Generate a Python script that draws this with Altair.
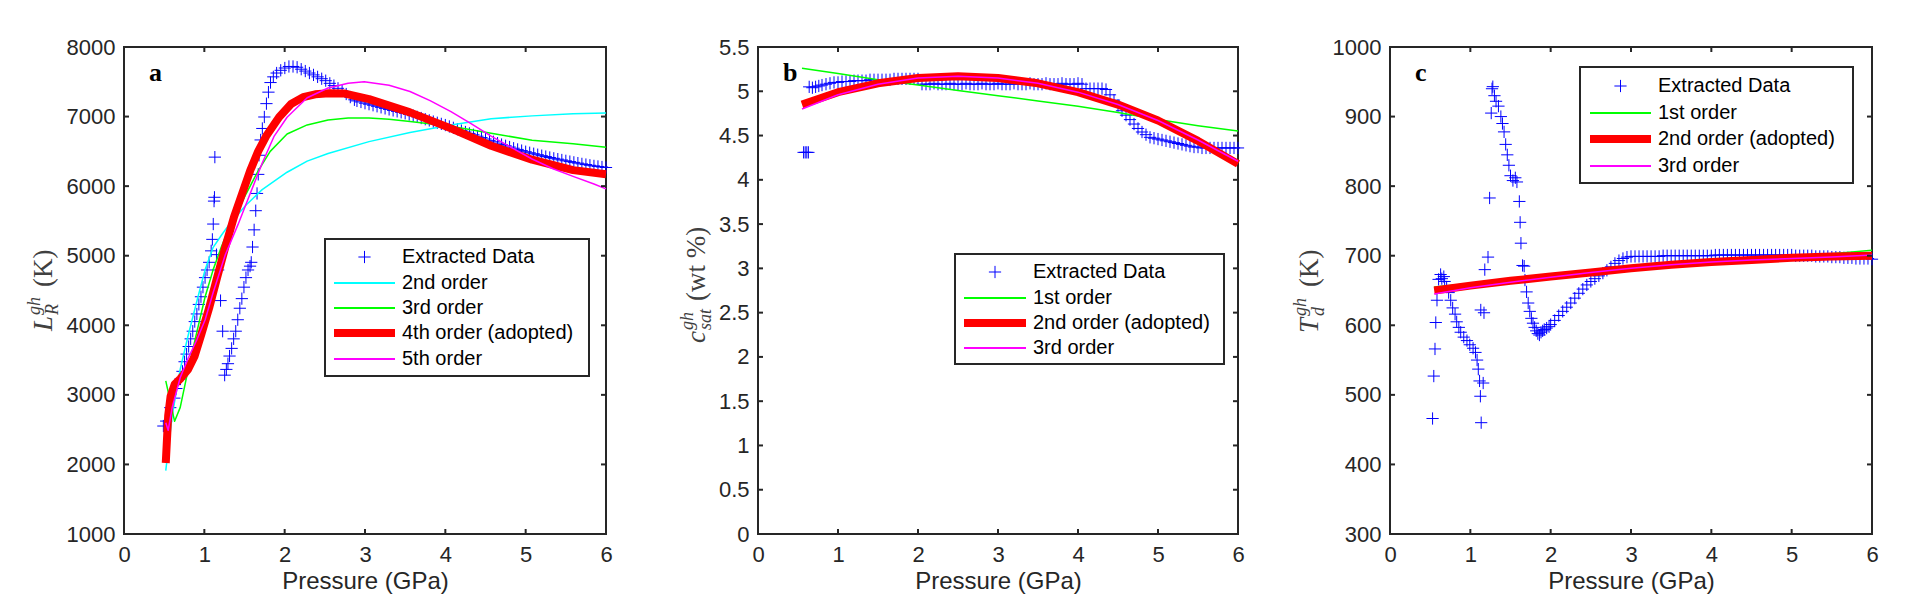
import altair as alt
import pandas as pd

# ---------------------------------------------------------------------------
# Panel a : L_R^gh (K) versus pressure
# ---------------------------------------------------------------------------
a_pts_p = [0.49, 0.525, 0.576, 0.627, 0.652, 0.703, 0.728, 0.754, 0.779, 0.805,
           0.830, 0.856, 0.881, 0.907, 0.932, 0.958, 0.983, 1.009, 1.034, 1.060,
           1.085, 1.100, 1.111, 1.121, 1.126, 1.131, 1.151, 1.172, 1.202, 1.228,
           1.253, 1.274, 1.294, 1.314, 1.340, 1.365, 1.391, 1.416, 1.442, 1.467,
           1.493, 1.518, 1.544, 1.569, 1.584, 1.600, 1.620, 1.640, 1.656, 1.671,
           1.681, 1.701, 1.722, 1.747, 1.773, 1.798, 1.824, 1.859, 1.900, 1.951,
           2.002, 2.053, 2.104, 2.155, 2.206, 2.257, 2.308, 2.359, 2.410, 2.461,
           2.511, 2.562, 2.613, 2.664, 2.715, 2.766, 2.817, 2.868,
           2.90, 2.95, 3.00, 3.05, 3.10, 3.15, 3.20, 3.25, 3.30, 3.35, 3.40, 3.45,
           3.50, 3.55, 3.60, 3.65, 3.70, 3.75, 3.80, 3.85, 3.90, 3.95, 4.00, 4.05,
           4.10, 4.15, 4.20, 4.25, 4.30, 4.35, 4.40, 4.45, 4.50, 4.55, 4.60, 4.65,
           4.70, 4.75, 4.80, 4.85, 4.90, 4.95, 5.00, 5.05, 5.10, 5.15, 5.20, 5.25,
           5.30, 5.35, 5.40, 5.45, 5.50, 5.55, 5.60, 5.65, 5.70, 5.75, 5.80, 5.85,
           5.90, 5.95, 6.00]
a_pts_v = [2552, 2623, 2816, 2953, 3091, 3228, 3338, 3476, 3586, 3695,
           3805, 3915, 4053, 4163, 4300, 4410, 4548, 4685, 4795, 4905,
           5070, 5235, 5455, 5785, 5840, 6417, 5015, 4795, 4355, 3915,
           3283, 3366, 3448, 3558, 3668, 3805, 3915, 4080, 4245, 4383,
           4548, 4685, 4795, 4850, 4905, 5125, 5372, 5647, 5895, 6169,
           6444, 6664, 6829, 6994, 7186, 7351, 7489, 7571, 7626, 7665,
           7698, 7720, 7720, 7709, 7681, 7654, 7626, 7599, 7571, 7544,
           7516, 7478, 7445, 7406, 7368, 7324, 7280, 7241,
           7225, 7210, 7192, 7178, 7163, 7148, 7133, 7118, 7103, 7089, 7075, 7061,
           7047, 7030, 7013, 6996, 6979, 6962, 6945, 6928, 6911, 6895, 6878, 6858,
           6838, 6818, 6798, 6778, 6758, 6738, 6718, 6698, 6678, 6658, 6638, 6618,
           6598, 6580, 6562, 6545, 6528, 6511, 6495, 6480, 6466, 6452, 6438, 6425,
           6412, 6400, 6388, 6376, 6364, 6353, 6342, 6331, 6320, 6310, 6300, 6291,
           6283, 6275, 6268]

a_fit_p = [0.52, 0.55, 0.58, 0.63, 0.70, 0.80, 0.88, 0.96, 1.06, 1.16, 1.26,
           1.37, 1.47, 1.57, 1.67, 1.77, 1.93, 2.08, 2.23, 2.38, 2.55, 2.75,
           3.05, 3.56, 4.07, 4.57, 5.08, 5.59, 6.00]
a_fit4 = [2020, 2700, 2980, 3150, 3230, 3370, 3560, 3860, 4250, 4690, 5120,
          5560, 5890, 6220, 6500, 6720, 6990, 7180, 7280, 7320, 7335, 7330,
          7250, 7060, 6830, 6580, 6380, 6230, 6170]

a_fit2_p = [0.52, 0.60, 0.70, 0.80, 0.91, 1.01, 1.11, 1.21, 1.31, 1.52, 1.72,
            2.03, 2.28, 2.54, 3.05, 3.56, 4.07, 4.57, 5.08, 5.59, 6.00]
a_fit2 = [1910, 2700, 3370, 3860, 4360, 4800, 5120, 5290, 5450, 5730, 5950,
          6200, 6360, 6470, 6640, 6770, 6880, 6970, 7010, 7040, 7050]

a_fit3_p = [0.52, 0.63, 0.70, 0.80, 0.91, 1.01, 1.11, 1.21, 1.31, 1.42, 1.52,
            1.67, 1.82, 2.03, 2.28, 2.54, 2.79, 3.05, 3.30, 3.56, 4.07, 4.57,
            5.08, 5.59, 6.00]
a_fit3 = [3200, 2620, 2820, 3370, 3920, 4410, 4800, 5120, 5400, 5650, 5890,
          6220, 6500, 6750, 6880, 6950, 6980, 6980, 6960, 6930, 6860, 6760,
          6660, 6610, 6560]

a_fit5_p = [0.52, 0.55, 0.60, 0.70, 0.80, 0.91, 1.01, 1.11, 1.26, 1.42, 1.57,
            1.72, 1.87, 2.03, 2.28, 2.54, 2.79, 2.99, 3.30, 3.56, 3.81, 4.07,
            4.32, 4.57, 4.83, 5.08, 5.34, 5.59, 5.85, 6.00]
a_fit5 = [2600, 2490, 2820, 3250, 3530, 3800, 4080, 4470, 5010, 5450, 5890,
          6330, 6720, 6990, 7270, 7410, 7480, 7500, 7450, 7360, 7230, 7070,
          6900, 6720, 6550, 6390, 6250, 6140, 6030, 5960]

# ---------------------------------------------------------------------------
# Panel b : c_sat^gh (wt %) versus pressure
# ---------------------------------------------------------------------------
b_pts_p = [0.57, 0.59, 0.61, 0.63, 0.64,
           0.68, 0.72, 0.76, 0.80, 0.85, 0.90, 0.95, 1.00, 1.05, 1.10, 1.15,
           1.20, 1.25, 1.30, 1.35, 1.40, 1.45, 1.50, 1.55, 1.60, 1.65, 1.70,
           1.75, 1.80, 1.85, 1.90, 1.95, 2.00,
           2.05, 2.10, 2.15, 2.20, 2.25, 2.30, 2.35, 2.40, 2.45, 2.50, 2.55,
           2.60, 2.65, 2.70, 2.75, 2.80, 2.85, 2.90, 2.95, 3.00, 3.05, 3.10,
           3.15, 3.20, 3.25, 3.30, 3.35, 3.40, 3.45, 3.50, 3.55, 3.60, 3.65,
           3.70, 3.75, 3.80, 3.85, 3.90, 3.95, 4.00, 4.05,
           4.10, 4.15, 4.20, 4.25, 4.30, 4.35,
           4.40, 4.45, 4.50, 4.55, 4.60, 4.65, 4.70, 4.75, 4.80, 4.85, 4.90,
           4.95, 5.00, 5.05, 5.10, 5.15, 5.20, 5.25, 5.30, 5.35, 5.40, 5.45,
           5.50, 5.55, 5.60, 5.65, 5.70, 5.75, 5.80, 5.85, 5.90, 5.95, 6.00]
b_pts_v = [4.31, 4.31, 4.31, 4.31, 5.05,
           5.04, 5.05, 5.06, 5.07, 5.08, 5.09, 5.10, 5.10, 5.11, 5.11, 5.11,
           5.12, 5.12, 5.12, 5.12, 5.13, 5.13, 5.13, 5.13, 5.13, 5.13, 5.14,
           5.14, 5.14, 5.14, 5.14, 5.14, 5.14,
           5.08, 5.08, 5.08, 5.09, 5.08, 5.08, 5.08, 5.09, 5.08, 5.08, 5.08,
           5.09, 5.08, 5.08, 5.08, 5.09, 5.08, 5.08, 5.08, 5.09, 5.08, 5.08,
           5.08, 5.09, 5.08, 5.08, 5.08, 5.09, 5.08, 5.08, 5.08, 5.09, 5.08,
           5.08, 5.08, 5.09, 5.08, 5.08, 5.08, 5.09, 5.08,
           5.03, 5.03, 5.03, 5.03, 5.03, 5.02,
           4.96, 4.90, 4.84, 4.78, 4.73, 4.68, 4.63, 4.58, 4.54, 4.51, 4.48,
           4.47, 4.46, 4.45, 4.44, 4.43, 4.42, 4.41, 4.40, 4.39, 4.38, 4.37,
           4.37, 4.36, 4.36, 4.36, 4.36, 4.36, 4.36, 4.36, 4.36, 4.36, 4.36]

b_fit_p = [0.55, 1.0, 1.5, 2.0, 2.5, 3.0, 3.5, 4.0, 4.5, 5.0, 5.5, 6.0]
b_fit1 = [5.26, 5.20, 5.13, 5.07, 5.01, 4.95, 4.89, 4.83, 4.76, 4.68, 4.61, 4.55]
b_fit2 = [4.85, 4.99, 5.09, 5.15, 5.17, 5.15, 5.09, 4.99, 4.85, 4.67, 4.44, 4.18]
b_fit3 = [4.80, 4.96, 5.08, 5.15, 5.17, 5.15, 5.09, 4.99, 4.85, 4.67, 4.45, 4.21]

# ---------------------------------------------------------------------------
# Panel c : T_d^gh (K) versus pressure
# ---------------------------------------------------------------------------
c_pts_p = [0.53, 0.545, 0.56, 0.57, 0.585, 0.605, 0.63, 0.645, 0.67, 0.68,
           0.705, 0.73, 0.756, 0.78, 0.81, 0.83, 0.857, 0.88, 0.918, 0.958,
           0.993, 1.034, 1.064, 1.084, 1.099, 1.115, 1.125, 1.135, 1.16,
           1.13, 1.17, 1.18, 1.22, 1.24, 1.26, 1.27, 1.28, 1.30, 1.32, 1.35,
           1.38, 1.40, 1.42, 1.44, 1.46, 1.48, 1.50, 1.53, 1.56, 1.58, 1.61,
           1.62, 1.63, 1.65, 1.67, 1.68, 1.70, 1.72, 1.74, 1.76, 1.78, 1.80,
           1.82, 1.84, 1.86, 1.88, 1.90, 1.92, 1.95, 1.98,
           2.00, 2.05, 2.10, 2.15, 2.20, 2.25, 2.30, 2.35, 2.40, 2.45, 2.50,
           2.55, 2.60, 2.65, 2.70, 2.75, 2.80, 2.85, 2.90, 2.95, 3.00, 3.05,
           3.10, 3.15, 3.20, 3.25, 3.30, 3.35, 3.40, 3.45, 3.50, 3.55, 3.60,
           3.65, 3.70, 3.75, 3.80, 3.85, 3.90, 3.95, 4.00, 4.05, 4.10, 4.15,
           4.20, 4.25, 4.30, 4.35, 4.40, 4.45, 4.50, 4.55, 4.60, 4.65, 4.70,
           4.75, 4.80, 4.85, 4.90, 4.95, 5.00, 5.05, 5.10, 5.15, 5.20, 5.25,
           5.30, 5.35, 5.40, 5.45, 5.50, 5.55, 5.60, 5.65, 5.70, 5.75, 5.80,
           5.85, 5.90, 5.95, 6.00]
c_pts_v = [466, 527, 566, 604, 636, 666, 673, 667, 670, 663,
           655, 647, 636, 625, 616, 605, 597, 590, 583, 578,
           572, 567, 561, 550, 537, 520, 498, 460, 517,
           622, 618, 680, 698, 783, 905, 940, 943, 930, 922, 915,
           900, 890, 878, 860, 845, 830, 815, 808, 812, 806, 778,
           748, 718, 686, 685, 665, 648, 632, 620, 610, 603, 597,
           592, 588, 586, 590, 592, 594, 596, 598,
           601, 607, 614, 620, 626, 632, 639, 646, 652, 658, 663,
           667, 671, 675, 679, 684, 689, 693, 696, 698, 699, 699,
           699, 699, 699, 699, 699, 699, 700, 700, 700, 700, 700,
           700, 700, 700, 700, 700, 700, 700, 700, 701, 701, 701,
           701, 701, 701, 701, 701, 701, 701, 701, 701, 701, 701,
           701, 701, 701, 701, 701, 701, 700, 700, 700, 700, 700,
           699, 699, 699, 699, 698, 698, 698, 697, 697, 697, 696,
           696, 696, 696, 695]

c_fit_p = [0.55, 1.0, 1.5, 2.0, 2.5, 3.0, 3.5, 4.0, 4.5, 5.0, 5.5, 6.0]
c_fit1 = [655, 660, 665, 670, 675, 680, 684, 689, 694, 698, 703, 708]
c_fit2 = [650, 657, 664, 670, 676, 682, 687, 691, 694, 697, 699, 700]
c_fit3 = [645, 654, 662, 669, 676, 682, 687, 691, 694, 696, 698, 701]

# ---------------------------------------------------------------------------
# Styling
# ---------------------------------------------------------------------------
H = 487
AXIS_COLOR = "#262626"
SANS = "Liberation Sans"
SERIF = "Liberation Serif"
PLUS = "M-1,0L1,0M0,-1L0,1"
BLUE, CYAN, GREEN, RED, MAGENTA = "#0000ff", "#00ffff", "#00ff00", "#ff0000", "#ff00ff"
X_TICKS = [0, 1, 2, 3, 4, 5, 6]
ONE = pd.DataFrame({"k": [0]})
MAIN, SCRIPT = 27, 18


def x_axis():
    return alt.Axis(values=X_TICKS, title="Pressure (GPa)", grid=False, ticks=False,
                    tickSize=0, domain=False, labelFont=SANS, labelFontSize=22,
                    labelColor=AXIS_COLOR, labelPadding=10, titleFont=SANS,
                    titleFontSize=24, titleFontWeight="normal", titleColor=AXIS_COLOR,
                    titlePadding=4, labelFlush=False, format="d")


def y_axis(values, fmt):
    return alt.Axis(values=values, title="", grid=False, ticks=False, tickSize=0,
                    domain=False, labelFont=SANS, labelFontSize=22, format=fmt,
                    labelColor=AXIS_COLOR, labelPadding=9, labelFlush=False)


def make_panel(width, y_dom, y_ticks, y_fmt, pts, fits, letter, legend, ytitle,
               anchor=False):
    xs = alt.Scale(domain=[0, 6], nice=False, zero=False)
    ys = alt.Scale(domain=y_dom, nice=False, zero=False)
    xa = x_axis()
    ya = y_axis(y_ticks, y_fmt)

    def X():
        return alt.X("P:Q", scale=xs, axis=xa, title="Pressure (GPa)")

    def Y():
        return alt.Y("V:Q", scale=ys, axis=ya, title="")

    layers = []

    # extracted data as thin plus markers
    pdf = pd.DataFrame({"P": pts[0], "V": pts[1]})
    layers.append(
        alt.Chart(pdf).mark_point(shape=PLUS, filled=False, size=150, strokeWidth=1,
                                  color=BLUE, opacity=1)
        .encode(x=X(), y=Y())
    )

    # polynomial fits
    for fp, fv, color, sw in fits:
        fdf = pd.DataFrame({"P": fp, "V": fv})
        layers.append(
            alt.Chart(fdf).mark_line(color=color, strokeWidth=sw, strokeJoin="round")
            .encode(x=X(), y=Y())
        )

    # inward ticks on all four sides of the box
    ty = pd.DataFrame({"V": y_ticks})
    tx = pd.DataFrame({"P": X_TICKS})
    tick_style = dict(color=AXIS_COLOR, strokeWidth=2)
    for x1, x2 in [(0, 5), (width - 5, width)]:
        layers.append(alt.Chart(ty).mark_rule(**tick_style).encode(
            y=Y(), x=alt.value(x1), x2=alt.value(x2)))
    for y1, y2 in [(0, 5), (H - 5, H)]:
        layers.append(alt.Chart(tx).mark_rule(**tick_style).encode(
            x=X(), y=alt.value(y1), y2=alt.value(y2)))

    # panel letter
    layers.append(alt.Chart(ONE).mark_text(
        text=letter, font=SERIF, fontWeight="bold", fontSize=26, align="left",
        baseline="alphabetic", color="#000000").encode(x=alt.value(25), y=alt.value(34)))

    # legend box
    bx1, bx2, by1, by2, line_x1, line_x2, text_x, rows = legend
    layers.append(alt.Chart(ONE).mark_rect(fill="white", stroke=AXIS_COLOR, strokeWidth=2)
                  .encode(x=alt.value(bx1), x2=alt.value(bx2), y=alt.value(by1),
                          y2=alt.value(by2)))
    for label, color, sw, ry in rows:
        if sw == 0:
            layers.append(alt.Chart(ONE).mark_point(
                shape=PLUS, filled=False, size=150, strokeWidth=1, color=color, opacity=1)
                .encode(x=alt.value((line_x1 + line_x2) / 2), y=alt.value(ry)))
        else:
            layers.append(alt.Chart(ONE).mark_rule(color=color, strokeWidth=sw)
                          .encode(x=alt.value(line_x1), x2=alt.value(line_x2),
                                  y=alt.value(ry)))
        layers.append(alt.Chart(ONE).mark_text(
            text=label, font=SANS, fontSize=20, align="left", baseline="middle",
            color="#000000").encode(x=alt.value(text_x), y=alt.value(ry)))

    # rotated y-axis title built from base, superscript and subscript pieces
    for txt, ystart, xbase, size, style in ytitle:
        layers.append(alt.Chart(ONE).mark_text(
            text=txt, font=SERIF, fontSize=size, fontStyle=style, angle=270,
            align="left", baseline="alphabetic", color="#404040")
            .encode(x=alt.value(xbase), y=alt.value(ystart)))

    if anchor:
        # fixes the top-left corner of the whole figure
        layers.append(alt.Chart(ONE).mark_rule(color="white", strokeWidth=1)
                      .encode(x=alt.value(-122), x2=alt.value(-120),
                              y=alt.value(-45), y2=alt.value(-45)))

    return alt.layer(*layers).properties(width=width, height=H)


panel_a = make_panel(
    482, [1000, 8000], [1000, 2000, 3000, 4000, 5000, 6000, 7000, 8000], "d",
    (a_pts_p, a_pts_v),
    [(a_fit2_p, a_fit2, CYAN, 1.5), (a_fit3_p, a_fit3, GREEN, 1.5),
     (a_fit_p, a_fit4, RED, 8), (a_fit5_p, a_fit5, MAGENTA, 1.5)],
    "a",
    (201, 465, 192, 329, 210, 271, 278,
     [("Extracted Data", BLUE, 0, 210), ("2nd order", CYAN, 2, 236),
      ("3rd order", GREEN, 2, 261), ("4th order (adopted)", RED, 8, 286),
      ("5th order", MAGENTA, 2, 312)]),
    [("L", 284, -72, MAIN, "italic"), ("gh", 268, -84, SCRIPT, "italic"),
     ("R", 268, -66, SCRIPT, "italic"), ("(K)", 240, -72, MAIN, "normal")],
    anchor=True,
)

panel_b = make_panel(
    480, [0, 5.5], [0, 0.5, 1, 1.5, 2, 2.5, 3, 3.5, 4, 4.5, 5, 5.5], "~g",
    (b_pts_p, b_pts_v),
    [(b_fit_p, b_fit1, GREEN, 1.5), (b_fit_p, b_fit2, RED, 8),
     (b_fit_p, b_fit3, MAGENTA, 1.5)],
    "b",
    (197, 466, 207, 317, 206, 268, 275,
     [("Extracted Data", BLUE, 0, 225), ("1st order", GREEN, 2, 251),
      ("2nd order (adopted)", RED, 8, 276), ("3rd order", MAGENTA, 2, 301)]),
    [("c", 296, -53, MAIN, "italic"), ("gh", 283, -65, SCRIPT, "italic"),
     ("sat", 283, -47, SCRIPT, "italic"), ("(wt %)", 254, -53, MAIN, "normal")],
)

panel_c = make_panel(
    482, [300, 1000], [300, 400, 500, 600, 700, 800, 900, 1000], "d",
    (c_pts_p, c_pts_v),
    [(c_fit_p, c_fit1, GREEN, 1.5), (c_fit_p, c_fit2, RED, 8),
     (c_fit_p, c_fit3, MAGENTA, 1.5)],
    "c",
    (190, 463, 20, 136, 200, 261, 268,
     [("Extracted Data", BLUE, 0, 39), ("1st order", GREEN, 2, 66),
      ("2nd order (adopted)", RED, 8, 92), ("3rd order", MAGENTA, 2, 119)]),
    [("T", 286, -72, MAIN, "italic"), ("gh", 269, -84, SCRIPT, "italic"),
     ("d", 269, -66, SCRIPT, "italic"), ("(K)", 240, -72, MAIN, "normal")],
)

chart = (
    alt.hconcat(panel_a, panel_b, panel_c, spacing=152, bounds="flush")
    .properties(padding=0, background="white")
    .configure_view(stroke=AXIS_COLOR, strokeWidth=2)
)

chart.save("out.html", embed_options={"renderer": "svg", "actions": False})
